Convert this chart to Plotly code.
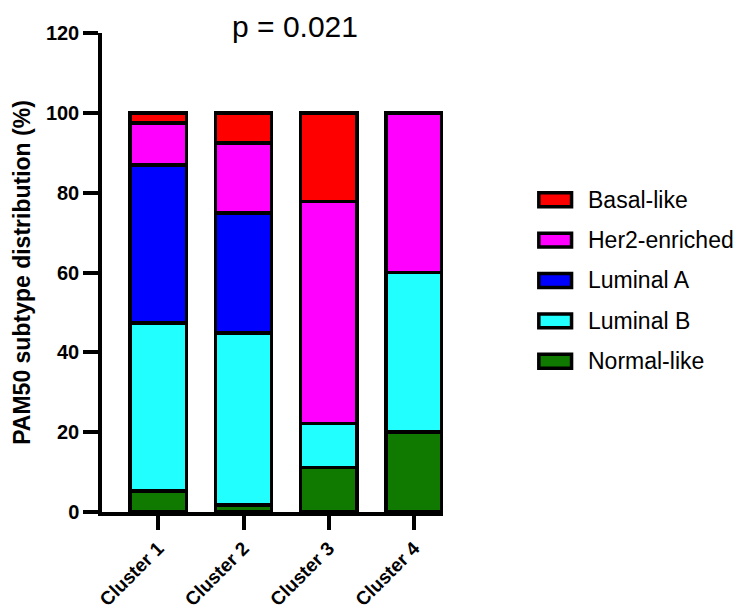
import plotly.graph_objects as go

clusters = ["Cluster 1", "Cluster 2", "Cluster 3", "Cluster 4"]

# PAM50 subtype share (%) per cluster, stacked bottom -> top
normal_like = [5.3, 1.7, 11.1, 20.0]
luminal_b = [42.1, 43.2, 11.1, 40.0]
luminal_a = [39.5, 30.0, 0.0, 0.0]
her2_enriched = [10.5, 17.5, 55.6, 40.0]
basal_like = [2.6, 7.6, 22.2, 0.0]

series = [
    ("Normal-like", normal_like, "#107A00"),
    ("Luminal B", luminal_b, "#22FFFF"),
    ("Luminal A", luminal_a, "#0000FF"),
    ("Her2-enriched", her2_enriched, "#FF00FF"),
    ("Basal-like", basal_like, "#FF0000"),
]

y_ticks = [0, 20, 40, 60, 80, 100, 120]

FONT = "Arial, Liberation Sans, Helvetica, sans-serif"

fig = go.Figure()
for name, vals, col in series:
    fig.add_trace(go.Bar(
        x=clusters, y=vals, name=name,
        marker=dict(color=col, line=dict(color="black", width=3.5)),
        width=0.66, showlegend=False,
    ))

# legend: swatches + labels, top entry first
legend_top = 0.652
legend_step = 0.0843
for i, (name, vals, col) in enumerate(reversed(series)):
    yc = legend_top - i * legend_step
    fig.add_shape(type="rect", xref="paper", yref="paper",
                  x0=1.281, x1=1.377, y0=yc - 0.0145, y1=yc + 0.0145,
                  fillcolor=col, line=dict(color="black", width=3.5))
    fig.add_annotation(xref="paper", yref="paper", x=1.420, y=yc,
                       text=name, showarrow=False, xanchor="left", yanchor="middle",
                       font=dict(family=FONT, size=23, color="black"))

fig.update_layout(
    barmode="stack",
    width=739, height=609,
    margin=dict(l=102, r=296, t=33, b=97),
    plot_bgcolor="white", paper_bgcolor="white",
    font=dict(family=FONT, color="black"),
    title=dict(text="p = 0.021", x=0.566, xanchor="center", xref="paper",
               y=0.957, yanchor="middle",
               font=dict(family=FONT, size=30, color="black")),
)

fig.update_xaxes(
    range=[-0.66, 3.34], automargin=False,
    showline=True, linecolor="black", linewidth=3.5,
    ticks="outside", ticklen=14, tickwidth=3.5, tickcolor="black",
    tickangle=-45,
    tickfont=dict(family=FONT, size=19, color="black", weight="bold"),
    showgrid=False, zeroline=False,
)
fig.update_yaxes(
    range=[0, 120], tickvals=y_ticks, automargin=False,
    showline=True, linecolor="black", linewidth=3.5,
    ticks="outside", ticklen=15, tickwidth=3.5, tickcolor="black",
    tickfont=dict(family=FONT, size=20, color="black", weight="bold"),
    showgrid=False, zeroline=False,
    title=dict(text="PAM50 subtype distribution (%)", standoff=10,
               font=dict(family=FONT, size=23, color="black", weight="bold")),
)

fig.write_html("out.html")
